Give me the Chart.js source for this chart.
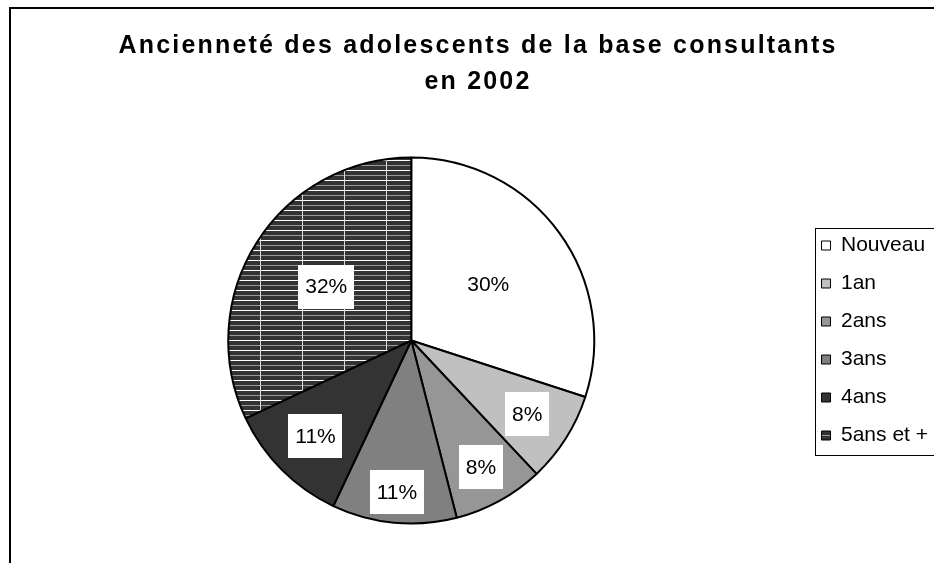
<!DOCTYPE html>
<html><head><meta charset="utf-8">
<script src="https://cdn.jsdelivr.net/npm/chart.js@4/dist/chart.umd.min.js"></script>
<style>html,body{margin:0;padding:0;background:#fff;overflow:hidden}#wrap{width:934px;height:563px;position:relative}</style>
</head><body><div id="wrap"><canvas id="c"></canvas></div>
<script>
const categories = ['Nouveau', '1an', '2ans', '3ans', '4ans', '5ans et +'];
const percentages = [30, 8, 8, 11, 11, 32];
const titleLines = ['Ancienneté des adolescents de la base consultants', 'en 2002'];

const FONT = '"Liberation Sans", Arial, sans-serif';
const labelRadius = [0.52, 0.75, 0.79, 0.83, 0.74, 0.55];

const canvas = document.getElementById('c');
const ctx = canvas.getContext('2d');

function makePattern() {
  const t = document.createElement('canvas');
  t.width = 42; t.height = 10;
  const g = t.getContext('2d');
  g.fillStyle = '#333333'; g.fillRect(0, 0, 42, 10);
  g.fillStyle = '#ffffff'; g.fillRect(0, 0, 42, 1);
  g.fillStyle = '#9a9a9a'; g.fillRect(0, 5, 42, 1);
  g.fillStyle = '#dddddd'; g.fillRect(8, 0, 1, 10);
  return ctx.createPattern(t, 'repeat');
}
const sliceColors = ['#ffffff', '#c0c0c0', '#969696', '#808080', '#333333', makePattern()];

const framePlugin = {
  id: 'frame',
  beforeDraw(chart) {
    const c = chart.ctx;
    c.save();
    c.fillStyle = '#fff';
    c.fillRect(0, 0, chart.width, chart.height);
    c.fillStyle = '#000';
    c.fillRect(9, 7, 2, chart.height);
    c.fillRect(9, 7, chart.width, 2);
    c.restore();
  },
  afterLayout(chart) {
    const tb = chart.titleBlock;
    if (tb && !tb._spaced) {
      const orig = tb.draw.bind(tb);
      tb.draw = function () {
        chart.ctx.save();
        chart.ctx.letterSpacing = '2.2px';
        orig();
        chart.ctx.restore();
      };
      tb._spaced = true;
    }
  },
  afterDraw(chart) {
    const hb = chart.legend && chart.legend.legendHitBoxes;
    if (!hb || !hb.length) return;
    const c = chart.ctx;
    const first = hb[0], last = hb[hb.length - 1];
    const top = Math.round(first.top + first.height / 2 - 18) + 0.5;
    const bottom = Math.round(last.top + last.height / 2 + 19) + 0.5;
    const left = Math.round(first.left - 7) + 0.5;
    c.save();
    c.strokeStyle = '#000';
    c.lineWidth = 1;
    c.strokeRect(left, top, chart.width, bottom - top);
    c.restore();
  }
};

const labelPlugin = {
  id: 'sliceLabels',
  afterDatasetsDraw(chart) {
    const c = chart.ctx;
    const meta = chart.getDatasetMeta(0);
    c.save();
    c.font = '21px ' + FONT;
    c.textAlign = 'center';
    c.textBaseline = 'middle';
    meta.data.forEach((arc, i) => {
      const p = arc.getProps(['x', 'y', 'startAngle', 'endAngle', 'outerRadius'], true);
      const mid = (p.startAngle + p.endAngle) / 2;
      const r = p.outerRadius * labelRadius[i];
      const lx = p.x + Math.cos(mid) * r;
      const ly = p.y + Math.sin(mid) * r;
      const txt = percentages[i] + '%';
      const w = c.measureText(txt).width + 14;
      const h = 44;
      c.fillStyle = '#fff';
      c.fillRect(Math.round(lx - w / 2), Math.round(ly - h / 2), Math.round(w), h);
      c.fillStyle = '#000';
      c.fillText(txt, lx, ly + 1);
    });
    c.restore();
  }
};

const baseGen = Chart.overrides.pie.plugins.legend.labels.generateLabels;

new Chart(canvas, {
  type: 'pie',
  data: {
    labels: categories,
    datasets: [{
      data: percentages,
      backgroundColor: sliceColors,
      borderColor: '#000',
      borderWidth: 2,
      radius: 183
    }]
  },
  options: {
    responsive: true,
    maintainAspectRatio: false,
    animation: false,
    layout: { padding: { left: 18, right: -4, top: 0, bottom: 0 } },
    plugins: {
      title: {
        display: true,
        text: titleLines,
        color: '#000',
        font: { family: FONT, size: 25, weight: 'bold', lineHeight: 1.44 },
        padding: { top: 28, bottom: 18 }
      },
      legend: {
        position: 'right',
        fullSize: false,
        labels: {
          color: '#000',
          font: { family: FONT, size: 21 },
          boxWidth: 9,
          boxHeight: 9,
          padding: 17,
          generateLabels(chart) {
            return baseGen(chart).map(l => Object.assign(l, { lineWidth: 1, strokeStyle: '#000' }));
          }
        }
      },
      tooltip: { enabled: false }
    }
  },
  plugins: [framePlugin, labelPlugin]
});
</script>
</body></html>
